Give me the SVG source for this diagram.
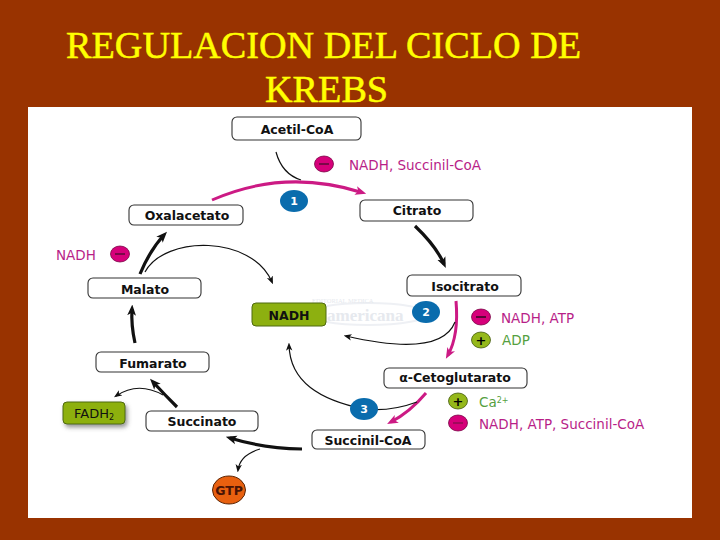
<svg xmlns="http://www.w3.org/2000/svg" width="720" height="540" viewBox="0 0 720 540">
<style>
.title{font-family:"Liberation Serif",serif;font-size:38.200px;fill:#ffff00;stroke:#ffff00;stroke-width:.5}
.box{fill:#fff;stroke:#333;stroke-width:1.1}
.green{fill:#8db010;stroke:#4f6a10;stroke-width:1}
.t{font-family:"DejaVu Sans",sans-serif;font-weight:bold;font-size:12.500px;fill:#111;text-anchor:middle}
.lab{font-family:"DejaVu Sans",sans-serif;font-size:13.500px;fill:#b81e88}
.labg{font-family:"DejaVu Sans",sans-serif;font-size:13.500px;fill:#55a040}
.num{font-family:"DejaVu Sans",sans-serif;font-weight:bold;font-size:11px;fill:#fff;text-anchor:middle}
.step{fill:#0a6cad}
.neg{fill:#d6007a;stroke:#7a0848;stroke-width:.8}
.pos{fill:#95b81a;stroke:#445a10;stroke-width:.8}
.sign{font-family:"DejaVu Sans",sans-serif;font-weight:bold;font-size:13px;text-anchor:middle}
.thin{fill:none;stroke:#111;stroke-width:1.2;marker-end:url(#aThin)}
.plain{fill:none;stroke:#111;stroke-width:1.2}
.thick{fill:none;stroke:#111;stroke-width:3.2;marker-end:url(#aThick)}
.mag{fill:none;stroke:#cc1a84;stroke-width:3;marker-end:url(#aMag)}
.wm{font-family:"Liberation Serif",serif;fill:#e6e9ee}
</style>
<defs>
<marker id="aThin" markerUnits="userSpaceOnUse" viewBox="0 0 10 10" refX="7" refY="5" markerWidth="8" markerHeight="8" orient="auto"><path d="M0 1L10 5L0 9L2.5 5Z" fill="#111"/></marker>
<marker id="aThick" markerUnits="userSpaceOnUse" viewBox="0 0 10 10" refX="6" refY="5" markerWidth="11" markerHeight="11" orient="auto"><path d="M0 1L10 5L0 9L2.5 5Z" fill="#111"/></marker>
<marker id="aMag" markerUnits="userSpaceOnUse" viewBox="0 0 10 10" refX="6" refY="5" markerWidth="11" markerHeight="11" orient="auto"><path d="M0 1L10 5L0 9L2.5 5Z" fill="#cc1a84"/></marker>
<filter id="sh" x="-20%" y="-20%" width="150%" height="170%"><feDropShadow dx="2" dy="3" stdDeviation="2" flood-color="#555" flood-opacity=".6"/></filter>
</defs>
<rect width="720" height="540" fill="#993300"/>
<rect x="28" y="107" width="664" height="411" fill="#fff"/>
<g id="title">
<text class="title" x="66" y="58">REGULACION DEL CICLO DE</text>
<text class="title" x="265" y="102">KREBS</text>
</g>
<g id="watermark">
<ellipse cx="368" cy="314" rx="60" ry="11" fill="none" stroke="#eef0f4" stroke-width="2"/>
<text class="wm" x="312" y="303" font-size="6.500">EDITORIAL MEDICA</text>
<text class="wm" x="327" y="321" font-size="17" font-weight="bold">americana</text>
</g>
<g id="connectors">
<path class="plain" d="M276 152Q282 174 301 180"/>
<path class="mag" d="M212 200Q285 168 362 192.500"/>
<path class="thick" d="M415 226Q436 246 444 264"/>
<path class="mag" d="M456 301Q459 335 448 355"/>
<path class="thin" d="M455 322Q441 358 346 336"/>
<path class="mag" d="M426 393Q410 412 391 422"/>
<path class="thin" d="M417 402Q390 412 364 409C320 400 290 382 289 345"/>
<path class="thick" d="M302 449Q262 448 230 438"/>
<path class="thin" d="M260 449Q240 455 238 470"/>
<path class="thick" d="M177 407Q165 395 153 382"/>
<path class="thin" d="M163 395Q138 381 116 396"/>
<path class="thick" d="M135 343Q131 325 132 309"/>
<path class="thick" d="M140 274Q150 250 164 235"/>
<path class="thin" d="M145 272C165 235 252 235 272 282"/>
</g>
<g id="acetil"><rect class="box" x="232" y="117" width="129" height="23" rx="5"/><text class="t" x="297" y="134">Acetil-CoA</text></g>
<g id="oxalacetato"><rect class="box" x="129" y="205" width="114" height="20" rx="5"/><text class="t" x="187" y="220">Oxalacetato</text></g>
<g id="citrato"><rect class="box" x="360" y="200" width="113" height="21" rx="5"/><text class="t" x="417" y="215">Citrato</text></g>
<g id="isocitrato"><rect class="box" x="407" y="275" width="114" height="21" rx="5"/><text class="t" x="465" y="291">Isocitrato</text></g>
<g id="malato"><rect class="box" x="88" y="278" width="113" height="20" rx="5"/><text class="t" x="145" y="294">Malato</text></g>
<g id="nadh"><rect class="green" x="252" y="303" width="74" height="23" rx="4"/><text class="t" x="289" y="320">NADH</text></g>
<g id="fumarato"><rect class="box" x="96" y="352" width="113" height="20" rx="5"/><text class="t" x="153" y="368">Fumarato</text></g>
<g id="succinato"><rect class="box" x="146" y="411" width="112" height="20" rx="5"/><text class="t" x="202" y="426">Succinato</text></g>
<g id="fadh"><rect class="green" x="63" y="402" width="62" height="22" rx="4" filter="url(#sh)"/><text class="t" style="font-weight:normal;font-size:13px" x="94" y="418">FADH<tspan font-size="8" dy="2">2</tspan></text></g>
<g id="succinil"><rect class="box" x="312" y="430" width="113" height="19" rx="5"/><text class="t" x="368" y="445">Succinil-CoA</text></g>
<g id="cetoglutarato"><rect class="box" x="384" y="368" width="143" height="20" rx="5"/><text class="t" x="455" y="382">α-Cetoglutarato</text></g>
<g id="gtp"><ellipse cx="229" cy="490" rx="16.500" ry="14" fill="#e8600f" stroke="#5a2505" stroke-width="1"/><text class="t" style="fill:#4a1405" x="229" y="495">GTP</text></g>
<g id="step1"><ellipse class="step" cx="294" cy="201" rx="14" ry="11"/><text class="num" x="294" y="205">1</text></g>
<g id="step2"><ellipse class="step" cx="426" cy="312" rx="14" ry="11"/><text class="num" x="426" y="316">2</text></g>
<g id="step3"><ellipse class="step" cx="364" cy="409" rx="14" ry="11"/><text class="num" x="364" y="413">3</text></g>
<g id="reg1"><ellipse class="neg" cx="324" cy="164" rx="9.500" ry="8"/><rect x="319" y="163" width="10" height="2" fill="#7a0848"/><text class="lab" x="349" y="170">NADH, Succinil-CoA</text></g>
<g id="reg2"><ellipse class="neg" cx="120" cy="254" rx="9.500" ry="8"/><rect x="115" y="253" width="10" height="2" fill="#7a0848"/><text class="lab" x="56" y="260">NADH</text></g>
<g id="reg3"><ellipse class="neg" cx="481" cy="317" rx="9.500" ry="8"/><rect x="476" y="316" width="10" height="2" fill="#5a0636"/><text class="lab" x="501" y="323">NADH, ATP</text></g>
<g id="reg4"><ellipse class="pos" cx="481" cy="340" rx="9.500" ry="8"/><text class="sign" x="481" y="345">+</text><text class="labg" x="502" y="345">ADP</text></g>
<g id="reg5"><ellipse class="pos" cx="458" cy="401" rx="9.500" ry="8"/><text class="sign" x="458" y="406">+</text><text class="labg" x="479" y="407">Ca<tspan font-size="8" dy="-4">2+</tspan></text></g>
<g id="reg6"><ellipse class="neg" cx="458" cy="423" rx="9.500" ry="8"/><rect x="453" y="422" width="10" height="2" fill="#a00a5c"/><text class="lab" x="479" y="429">NADH, ATP, Succinil-CoA</text></g>
</svg>
